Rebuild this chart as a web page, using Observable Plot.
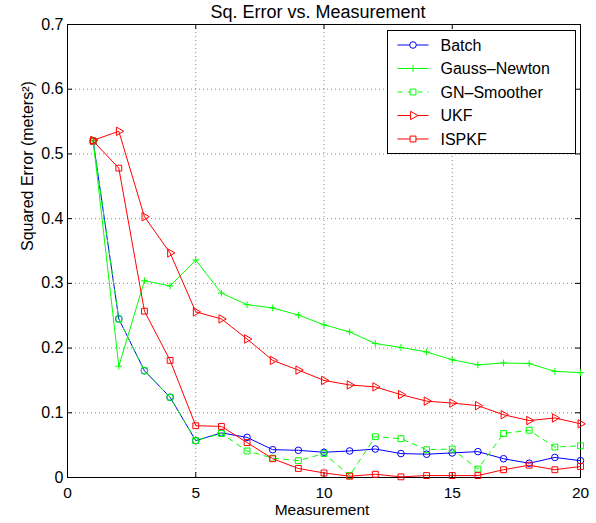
<!DOCTYPE html>
<html><head><meta charset="utf-8">
<script src="https://cdn.jsdelivr.net/npm/d3@7"></script>
<script src="https://cdn.jsdelivr.net/npm/@observablehq/plot@0.6"></script>
<style>
body{margin:0;background:#fff;}
svg{font-family:"Liberation Sans",Arial,Helvetica,sans-serif;}
</style>
</head><body><div id="chart"></div>
<script>
// ---- data ----
const measurement = [1,2,3,4,5,6,7,8,9,10,11,12,13,14,15,16,17,18,19,20];
const batch       = [0.520,0.245,0.165,0.124,0.057,0.069,0.062,0.043,0.042,0.039,0.041,0.044,0.037,0.036,0.038,0.040,0.029,0.022,0.031,0.026];
const gaussNewton = [0.521,0.172,0.304,0.296,0.336,0.285,0.267,0.262,0.251,0.236,0.225,0.207,0.201,0.194,0.182,0.174,0.177,0.176,0.164,0.162];
const gnSmoother  = [0.520,0.245,0.165,0.124,0.057,0.068,0.041,0.030,0.026,0.037,0.003,0.063,0.060,0.043,0.044,0.013,0.068,0.073,0.047,0.049];
const ukf         = [0.521,0.535,0.403,0.347,0.256,0.245,0.214,0.181,0.166,0.150,0.143,0.140,0.128,0.118,0.115,0.111,0.097,0.088,0.092,0.083];
const ispkf       = [0.520,0.478,0.257,0.181,0.080,0.079,0.054,0.029,0.014,0.007,0.002,0.005,0.001,0.003,0.003,0.003,0.012,0.019,0.012,0.017];
const seriesNames = ["Batch","Gauss\u2013Newton","GN\u2013Smoother","UKF","ISPKF"];
const seriesValues = [batch, gaussNewton, gnSmoother, ukf, ispkf];
const xTicks = [0,5,10,15,20];
const yTicks = [0,0.1,0.2,0.3,0.4,0.5,0.6,0.7];
const xGrid = [5,10,15];
const yGrid = [0.1,0.2,0.3,0.4,0.5,0.6];
const titleText = "Sq. Error vs. Measurement";
const xLabel = "Measurement";
const yLabel = "Squared Error (meters\u00b2)";

// ---- styles ----
const styles = [
  {color:"#0000ff", symbol:"circle",   r:3.3, rotate:0,  dash:null},
  {color:"#00ff00", symbol:"plus",     r:2.3, rotate:0,  dash:null},
  {color:"#00ff00", symbol:"square",   r:3.3, rotate:0,  dash:"5,5"},
  {color:"#ff0000", symbol:"triangle2",r:4,   rotate:90, dash:null},
  {color:"#ff0000", symbol:"square",   r:3.3, rotate:0,  dash:null}
];

const W = 596, H = 523;
const mL = 67, mR = 16, mT = 24, mB = 46;
const fw = W - mL - mR, fh = H - mT - mB;
const tickLen = 5;

const tables = seriesValues.map((vals, i) => measurement.map((m, j) => ({x: m, y: vals[j], series: seriesNames[i]})));

const marks = [
  Plot.ruleX(xGrid, {x: d => d, stroke: "#888", strokeDasharray: "1,3"}),
  Plot.ruleY(yGrid, {y: d => d, stroke: "#888", strokeDasharray: "1,3"}),
  Plot.tickX(xTicks, {x: d => d, insetTop: fh - tickLen, stroke: "#000"}),
  Plot.tickX(xTicks, {x: d => d, insetBottom: fh - tickLen, stroke: "#000"}),
  Plot.tickY(yTicks, {y: d => d, insetRight: fw - tickLen, stroke: "#000"}),
  Plot.tickY(yTicks, {y: d => d, insetLeft: fw - tickLen, stroke: "#000"}),
  Plot.frame({stroke: "#000"}),
  Plot.axisX(xTicks, {tickSize: 0, tickPadding: 9, tickFormat: d => String(d), label: null, fontSize: 15.5}),
  Plot.axisY(yTicks, {tickSize: 0, tickPadding: 4, tickFormat: d => String(d), label: null, fontSize: 16}),
];
tables.forEach((t, i) => {
  const s = styles[i];
  marks.push(Plot.line(t, {x: "x", y: "y", stroke: s.color, strokeWidth: 1, strokeDasharray: s.dash || undefined}));
  marks.push(Plot.dot(t, {x: "x", y: "y", stroke: s.color, fill: "none", symbol: s.symbol, r: s.r, rotate: s.rotate, strokeWidth: 1}));
});
marks.push(Plot.text([titleText], {frameAnchor: "top", lineAnchor: "middle", dx: -6, dy: -12, fontSize: 18, text: d => d}));
marks.push(Plot.text([xLabel], {frameAnchor: "bottom", lineAnchor: "middle", dx: -2, dy: 33, fontSize: 15.5, text: d => d}));
marks.push(Plot.text([yLabel], {frameAnchor: "left", lineAnchor: "middle", dx: -40, rotate: -90, fontSize: 16, text: d => d}));

const plot = Plot.plot({
  width: W, height: H,
  marginLeft: mL, marginRight: mR, marginTop: mT, marginBottom: mB,
  style: {background: "#fff", color: "#000", fontSize: "16px", fontFamily: '"Liberation Sans", Arial, sans-serif'},
  x: {domain: [0, 20], axis: null},
  y: {domain: [0, 0.7], axis: null},
  marks
});

// ---- legend ----
const svg = d3.select(plot);
const lg = svg.append("g").attr("class", "legend");
const lx0 = 387.5, ly0 = 30.5, lw = 188, lh = 123;
lg.append("rect").attr("x", lx0).attr("y", ly0).attr("width", lw).attr("height", lh)
  .attr("fill", "#fff").attr("stroke", "#000");
const symMap = {circle: d3.symbolCircle, plus: d3.symbolPlus, square: d3.symbolSquare, triangle2: d3.symbolTriangle2};
seriesNames.forEach((name, i) => {
  const s = styles[i];
  const cy = ly0 + 14.5 + i * 23.5;
  const row = lg.append("g");
  row.append("line").attr("x1", lx0 + 10).attr("x2", lx0 + 41).attr("y1", cy).attr("y2", cy)
    .attr("stroke", s.color).attr("stroke-dasharray", s.dash);
  row.append("path").attr("d", d3.symbol(symMap[s.symbol], Math.PI * s.r * s.r)())
    .attr("transform", `translate(${lx0 + 25.5},${cy}) rotate(${s.rotate})`)
    .attr("fill", "#fff").attr("stroke", s.color);
  row.append("text").attr("x", lx0 + 53).attr("y", cy).attr("dy", "0.35em")
    .attr("text-anchor", "start")
    .attr("font-size", 16).attr("fill", "#000").text(name);
});

document.getElementById("chart").appendChild(plot);
</script>
</body></html>
